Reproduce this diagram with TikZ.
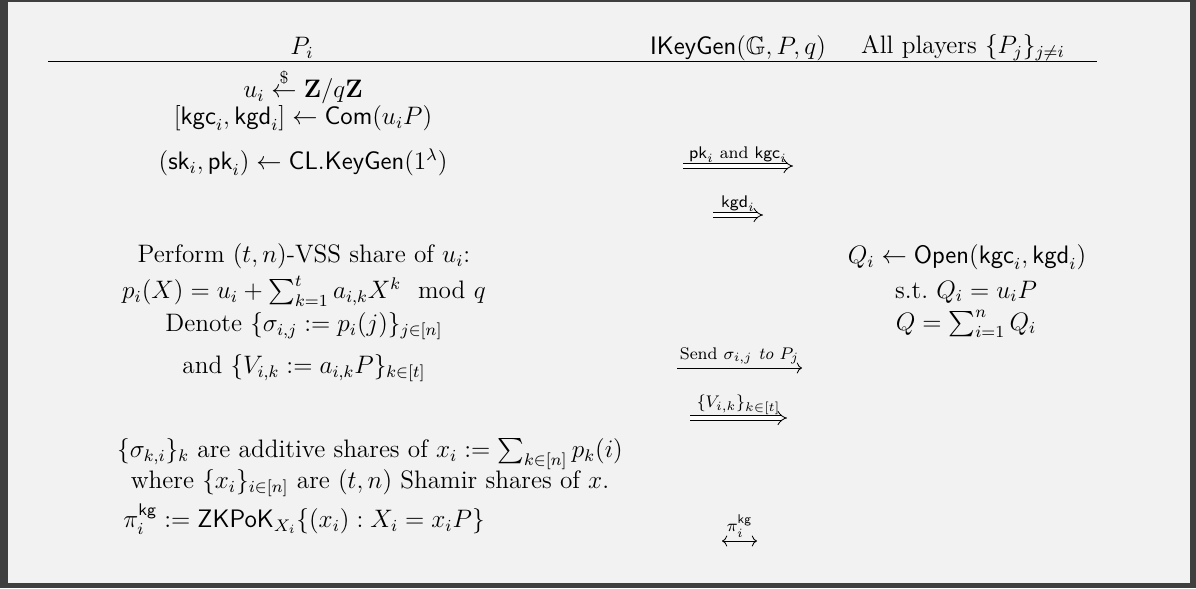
\documentclass[tikz,border=0pt,12pt]{standalone}
\usepackage{amsmath,amssymb}
\usepackage{tikz}
\usetikzlibrary{arrows.meta}

\definecolor{framegray}{HTML}{3F3F3F}
\definecolor{panelgray}{HTML}{F2F2F2}

\begin{document}
\begin{tikzpicture}[x=0.475pt, y=-0.475pt,
    msgtext/.style={above, inner sep=1.5pt, font=\scriptsize},
    sendone/.style={line width=0.4pt, -{Computer Modern Rightarrow}},
    sendtwo/.style={double, double distance=2pt, line width=0.4pt, -{Implies}},
    sendboth/.style={line width=0.4pt, {Computer Modern Rightarrow}-{Computer Modern Rightarrow}}]

    % ================= frame =================
    \fill[framegray] (0,0) rectangle (1196,588);
    \fill[panelgray] (8,2) rectangle (1190,583);

    % ================= header =================
    \node (hPi) at (302,48) {$P_i$};
    \node (hGen) at (738,48) {$\mathsf{IKeyGen}(\mathbb{G},P,q)$};
    \node (hAll) at (963,48) {All players $\{P_j\}_{j\neq i}$};
    \coordinate (ruleL) at (48,61);
    \coordinate (ruleR) at (1097,61);
    \draw[line width=0.4pt] (ruleL) -- (ruleR);

    % ================= P_i: commitment and keys =================
    \node (ui) at (303,86) {$u_i \overset{\$}{\leftarrow} \mathbf{Z}/q\mathbf{Z}$};
    \node (com) at (303,118) {$[\mathsf{kgc}_i,\mathsf{kgd}_i] \leftarrow \mathsf{Com}(u_iP)$};
    \node (clkey) at (303,162) {$(\mathsf{sk}_i,\mathsf{pk}_i) \leftarrow \mathsf{CL.KeyGen}(1^\lambda)$};

    % Messages
    \coordinate (pkS) at (683,166);
    \coordinate (pkE) at (793,166);
    \draw[sendtwo] (pkS) -- node[msgtext] {$\mathsf{pk}_i$ and $\mathsf{kgc}_i$} (pkE);
    \coordinate (kgdS) at (713,215);
    \coordinate (kgdE) at (763,215);
    \draw[sendtwo] (kgdS) -- node[msgtext] {$\mathsf{kgd}_i$} (kgdE);

    % ================= VSS sharing =================
    \node (vss) at (304,256) {Perform $(t,n)$-VSS share of $u_i$:};
    \node (poly) at (304,291) {$p_i(X) = u_i + \sum_{k=1}^t a_{i,k}X^k \mod q$};
    \node (shares) at (304,326) {Denote $\{\sigma_{i,j} := p_i(j)\}_{j\in[n]}$};
    \node (vks) at (304,368) {and $\{V_{i,k} := a_{i,k}P\}_{k\in[t]}$};

    % Other players open
    \node (open) at (967,257) {$Q_i \leftarrow \mathsf{Open}(\mathsf{kgc}_i,\mathsf{kgd}_i)$};
    \node (check) at (966,292) {s.t.\ $Q_i = u_iP$};
    \node (sumQ) at (966,324) {$Q = \sum_{i=1}^n Q_i$};

    % Messages
    \coordinate (sigS) at (677,368);
    \coordinate (sigE) at (802,368);
    \draw[sendone] (sigS) -- node[msgtext] {Send $\sigma_{i,j}$ \textit{to} $P_j$} (sigE);
    \coordinate (vS) at (690,418);
    \coordinate (vE) at (787,418);
    \draw[sendtwo] (vS) -- node[msgtext] {$\{V_{i,k}\}_{k\in[t]}$} (vE);

    % ================= Shamir shares and proof =================
    \node (addsh) at (370,454) {$\{\sigma_{k,i}\}_k$ are additive shares of $x_i := \sum_{k\in[n]} p_k(i)$};
    \node (shamir) at (370,483) {where $\{x_i\}_{i\in[n]}$ are $(t,n)$ Shamir shares of $x$.};
    \node (zkp) at (304,519) {$\pi_i^{\mathsf{kg}} := \mathsf{ZKPoK}_{X_i}\{(x_i) : X_i = x_iP\}$};

    \coordinate (piS) at (722,541);
    \coordinate (piE) at (757,541);
    \draw[sendboth] (piS) -- node[msgtext] {$\pi_i^{\mathsf{kg}}$} (piE);

\end{tikzpicture}
\end{document}
